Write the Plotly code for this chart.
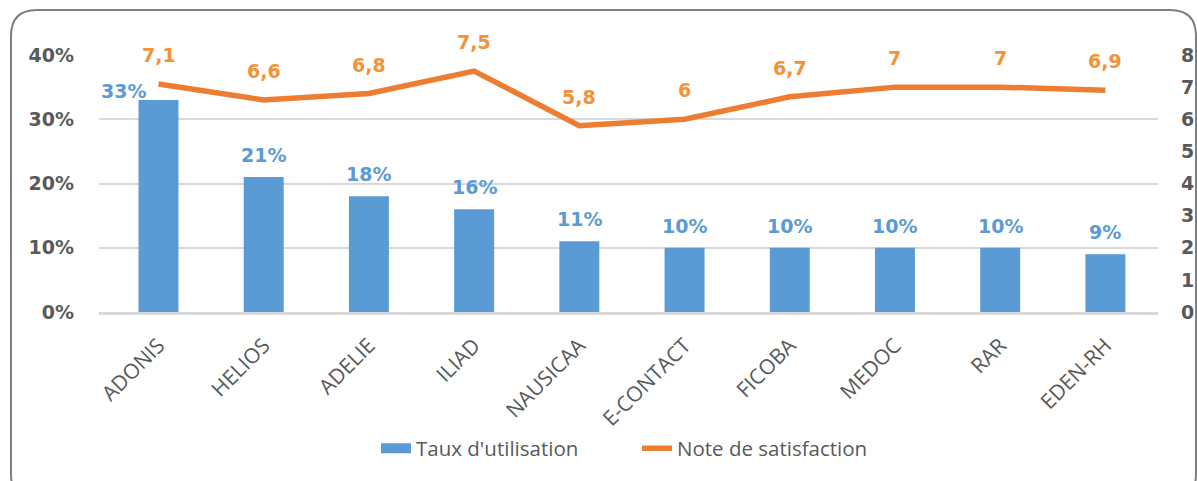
import plotly.graph_objects as go

categories = ["ADONIS", "HELIOS", "ADELIE", "ILIAD", "NAUSICAA", "E-CONTACT", "FICOBA", "MEDOC", "RAR", "EDEN-RH"]
taux = [33, 21, 18, 16, 11, 10, 10, 10, 10, 9]
notes = [7.1, 6.6, 6.8, 7.5, 5.8, 6.0, 6.7, 7.0, 7.0, 6.9]
note_labels = ["7,1", "6,6", "6,8", "7,5", "5,8", "6", "6,7", "7", "7", "6,9"]
left_ticks = [0, 10, 20, 30, 40]
left_tick_text = ["0%", "10%", "20%", "30%", "40%"]
right_ticks = [0, 1, 2, 3, 4, 5, 6, 7, 8]

BLUE = "#5B9BD5"
ORANGE = "#ED7D31"
ORANGE_TXT = "#F39237"
GRAY = "#595959"
FONT = "Open Sans"
BOLD = "DejaVu Sans"

W, H = 1197, 481
ML, MR, MT, MB = 99, 39, 55, 169

fig = go.Figure()
fig.add_trace(go.Bar(
    x=categories, y=taux, name="Taux d'utilisation", showlegend=False,
    marker=dict(color=BLUE, line=dict(width=0)), width=0.38, yaxis="y",
))
# legend entry for bars (wide rectangle swatch as in the reference)
fig.add_trace(go.Scatter(
    x=[None], y=[None], name="Taux d'utilisation", mode="lines",
    line=dict(color=BLUE, width=11), yaxis="y",
))
fig.add_trace(go.Scatter(
    x=categories, y=notes, name="Note de satisfaction", mode="lines",
    line=dict(color=ORANGE, width=5.5), yaxis="y2",
))

for i, (c, v) in enumerate(zip(categories, taux)):
    fig.add_annotation(x=c, y=v, xref="x", yref="y", text=f"<b>{v}%</b>",
                       showarrow=False, yshift=(9 if i == 0 else 22), xshift=(-35 if i == 0 else 0),
                       font=dict(family=BOLD, size=19, color=BLUE))
for c, v, t in zip(categories, notes, note_labels):
    fig.add_annotation(x=c, y=v, xref="x", yref="y2", text=f"<b>{t}</b>",
                       showarrow=False, yshift=29,
                       font=dict(family=BOLD, size=19, color=ORANGE_TXT))

# rounded border (page coords -> paper coords)
def px(x):
    return (x - ML) / (W - ML - MR)
def py(y):
    return (H - MB - y) / (H - MT - MB)

x0, x1, y0, y1, r = 11, 1196, 10, 500, 26
path = (f"M {px(x0)},{py(y0 + r)} "
        f"Q {px(x0)},{py(y0)} {px(x0 + r)},{py(y0)} "
        f"L {px(x1 - r)},{py(y0)} "
        f"Q {px(x1)},{py(y0)} {px(x1)},{py(y0 + r)} "
        f"L {px(x1)},{py(y1 - r)} "
        f"Q {px(x1)},{py(y1)} {px(x1 - r)},{py(y1)} "
        f"L {px(x0 + r)},{py(y1)} "
        f"Q {px(x0)},{py(y1)} {px(x0)},{py(y1 - r)} Z")
fig.add_shape(type="path", path=path, xref="paper", yref="paper",
              line=dict(color="#7F7F7F", width=2), fillcolor="rgba(0,0,0,0)", layer="below")

fig.update_layout(
    width=W, height=H,
    margin=dict(l=ML, r=MR, t=MT, b=MB, autoexpand=False),
    paper_bgcolor="white", plot_bgcolor="white",
    font=dict(family=FONT, color=GRAY),
    xaxis=dict(
        showgrid=False, tickangle=-45, tickfont=dict(family=FONT, size=21, color=GRAY),
        showline=True, linecolor="#D9D9D9", linewidth=3, ticks="", automargin=False,
        ticklabelstandoff=10,
    ),
    yaxis=dict(
        range=[0, 40], tickvals=left_ticks, ticktext=[f"<b>{t}</b>" for t in left_tick_text],
        showgrid=True, gridcolor="#D9D9D9", gridwidth=1.5, zeroline=False,
        tickfont=dict(family=BOLD, size=19, color=GRAY), ticklabelstandoff=24, automargin=False,
    ),
    yaxis2=dict(
        range=[0, 8], tickvals=right_ticks, ticktext=[f"<b>{t}</b>" for t in right_ticks],
        overlaying="y", side="right", showgrid=False, zeroline=False,
        tickfont=dict(family=BOLD, size=19, color=GRAY), ticklabelstandoff=22, automargin=False,
    ),
    legend=dict(orientation="h", x=px(376), y=py(448.5), xanchor="left", yanchor="middle",
                font=dict(family=FONT, size=20.5, color=GRAY), traceorder="normal",
                itemwidth=30, entrywidth=216, entrywidthmode="pixels"),
    showlegend=True,
)

fig.write_html(
    "out.html",
    config={"displayModeBar": False},
    post_script="document.body.style.margin='0';document.body.style.overflow='hidden';",
)
